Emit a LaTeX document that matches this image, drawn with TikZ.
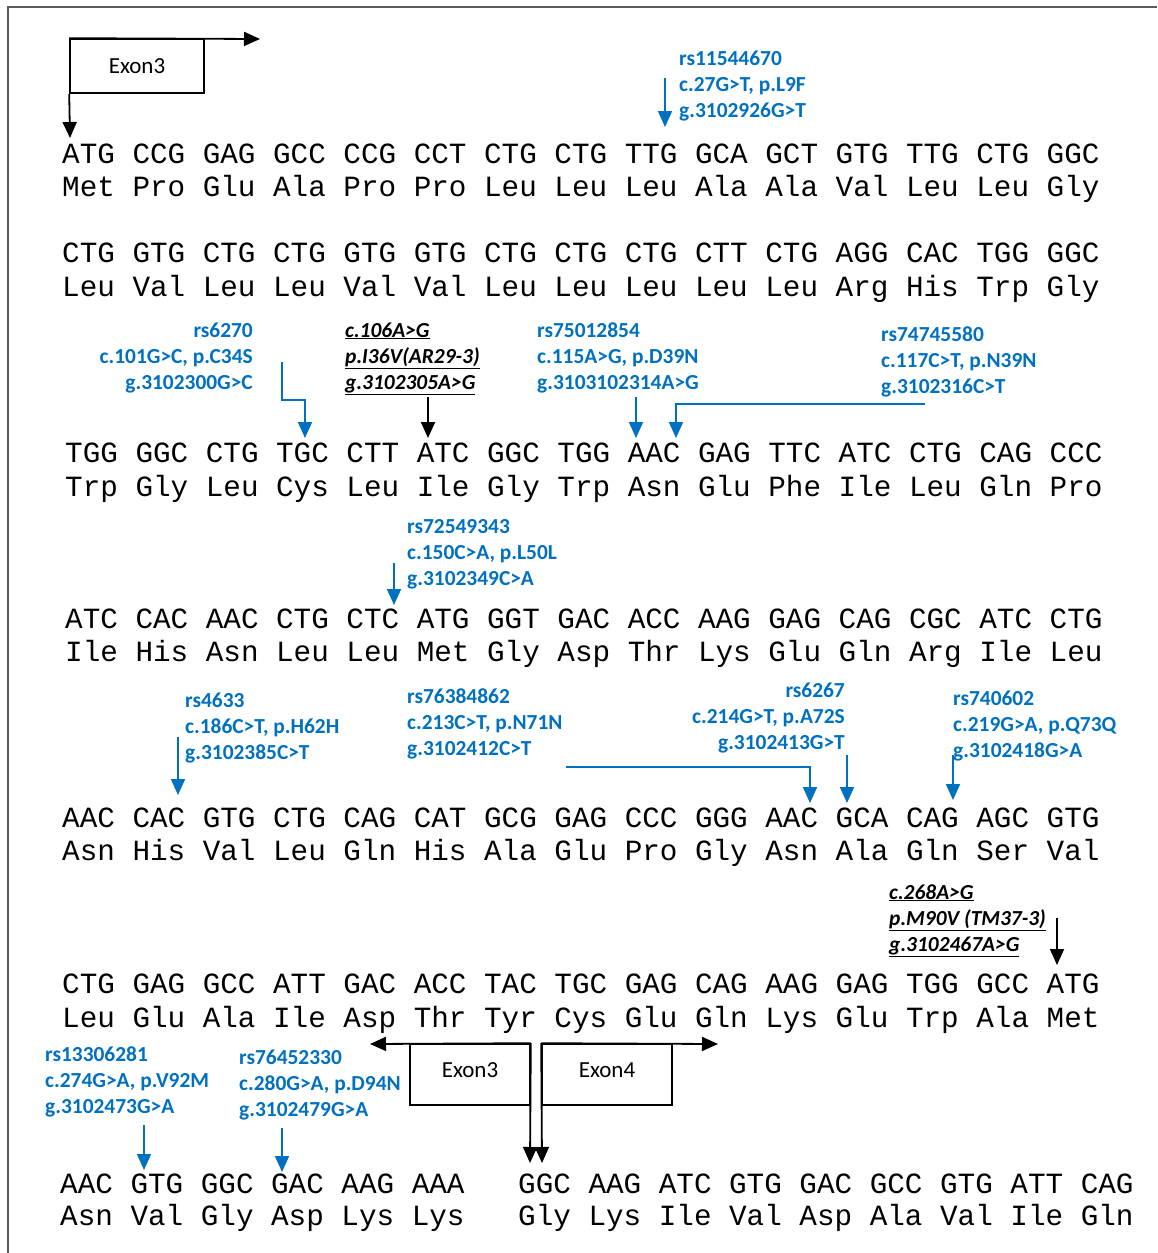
\documentclass[tikz,border=0pt]{standalone}
\usepackage{fontspec}
\usetikzlibrary{arrows.meta}
\newfontfamily\cali{Carlito}
\newfontfamily\cour{Liberation Mono}
\definecolor{snpblue}{RGB}{0,112,192}
\definecolor{framegray}{RGB}{90,90,90}
\newcommand\blkl[3]{\begin{tabular}[t]{@{}l@{}}#1\\#2\\#3\end{tabular}}
\newcommand\blkr[3]{\begin{tabular}[t]{@{}r@{}}#1\\#2\\#3\end{tabular}}
\newcommand\ul[1]{\underline{#1}}
\begin{document}
\begin{tikzpicture}[x=1pt,y=-1pt,
  seq/.style={anchor=base west,inner sep=0pt,font=\cour\fontsize{29.3}{32}\selectfont},
  snp/.style={inner sep=0pt,text=snpblue,font=\cali\bfseries\fontsize{21.4}{26}\selectfont},
  mut/.style={inner sep=0pt,text=black,font=\cali\bfseries\itshape\fontsize{21.4}{26}\selectfont},
  exonbox/.style={draw,line width=1.6pt,minimum width=134pt,minimum height=54pt,inner sep=0pt,font=\cali\fontsize{23}{26}\selectfont},
  tip/.style={-{Triangle[length=16pt,width=14pt]}},
  barr/.style={tip,line width=1.8pt,black},
  blarr/.style={tip,line width=1.8pt,snpblue}]
\useasboundingbox (0,0) rectangle (1157,1253);
% frame
\coordinate (fbl) at (8,1253);
\coordinate (ftl) at (8,7);
\coordinate (ftr) at (1157,7);
\draw[framegray,line width=2pt] (fbl) -- (ftl) -- (ftr);

% sequence rows
\node[seq] (c1) at (62,163) {ATG CCG GAG GCC CCG CCT CTG CTG TTG GCA GCT GTG TTG CTG GGC};
\node[seq] (a1) at (62,196) {Met Pro Glu Ala Pro Pro Leu Leu Leu Ala Ala Val Leu Leu Gly};
\node[seq] (c2) at (62,262) {CTG GTG CTG CTG GTG GTG CTG CTG CTG CTT CTG AGG CAC TGG GGC};
\node[seq] (a2) at (62,296) {Leu Val Leu Leu Val Val Leu Leu Leu Leu Leu Arg His Trp Gly};
\node[seq] (c3) at (65,462) {TGG GGC CTG TGC CTT ATC GGC TGG AAC GAG TTC ATC CTG CAG CCC};
\node[seq] (a3) at (65,496) {Trp Gly Leu Cys Leu Ile Gly Trp Asn Glu Phe Ile Leu Gln Pro};
\node[seq] (c4) at (65,628) {ATC CAC AAC CTG CTC ATG GGT GAC ACC AAG GAG CAG CGC ATC CTG};
\node[seq] (a4) at (65,661) {Ile His Asn Leu Leu Met Gly Asp Thr Lys Glu Gln Arg Ile Leu};
\node[seq] (c5) at (62,827) {AAC CAC GTG CTG CAG CAT GCG GAG CCC GGG AAC GCA CAG AGC GTG};
\node[seq] (a5) at (62,860) {Asn His Val Leu Gln His Ala Glu Pro Gly Asn Ala Gln Ser Val};
\node[seq] (c6) at (62,993) {CTG GAG GCC ATT GAC ACC TAC TGC GAG CAG AAG GAG TGG GCC ATG};
\node[seq] (a6) at (62,1027) {Leu Glu Ala Ile Asp Thr Tyr Cys Glu Gln Lys Glu Trp Ala Met};
\node[seq] (c7a) at (60,1193) {AAC GTG GGC GAC AAG AAA};
\node[seq] (a7a) at (60,1225) {Asn Val Gly Asp Lys Lys};
\node[seq] (c7b) at (518,1193) {GGC AAG ATC GTG GAC GCC GTG ATT CAG};
\node[seq] (a7b) at (518,1225) {Gly Lys Ile Val Asp Ala Val Ile Gln};

% top exon box
\node[exonbox] (ex3top) at (137,66) {Exon3};
\coordinate (ex3topR) at (260,39);
\coordinate (ex3topD) at (70,138);
\draw[barr] (ex3top.north west) -- (ex3topR);
\draw[barr] (ex3top.south west) -- (ex3topD);

% row 1 annotation
\node[snp,anchor=base west] (s1) at (679,65) {\blkl{rs11544670}{c.27G>T, p.L9F}{g.3102926G>T}};
\coordinate (s1a) at (665,78); \coordinate (s1b) at (665,127);
\draw[blarr] (s1a) -- (s1b);

% row 3 annotations
\node[snp,anchor=base east] (s2) at (253,337) {\blkr{rs6270}{c.101G>C, p.C34S}{g.3102300G>C}};
\coordinate (s2a) at (282,362); \coordinate (s2b) at (305,438);
\draw[blarr] (s2a) |- (294,400) -| (s2b);

\node[mut,anchor=base west] (m1) at (345,337) {\blkl{\ul{c.106A>G}}{\ul{p.I36V(AR29-3)}}{\ul{g.3102305A>G}}};
\coordinate (m1a) at (428,397); \coordinate (m1b) at (428,438);
\draw[barr] (m1a) -- (m1b);

\node[snp,anchor=base west] (s3) at (537,337) {\blkl{rs75012854}{c.115A>G, p.D39N}{g.3103102314A>G}};
\coordinate (s3a) at (636,397); \coordinate (s3b) at (636,438);
\draw[blarr] (s3a) -- (s3b);

\node[snp,anchor=base west] (s4) at (881,341) {\blkl{rs74745580}{c.117C>T, p.N39N}{g.3102316C>T}};
\coordinate (s4a) at (925,404); \coordinate (s4b) at (676,438);
\draw[blarr] (s4a) -| (s4b);

% row 4 annotation
\node[snp,anchor=base west] (s5) at (407,533) {\blkl{rs72549343}{c.150C>A, p.L50L}{g.3102349C>A}};
\coordinate (s5a) at (394,563); \coordinate (s5b) at (394,605);
\draw[blarr] (s5a) -- (s5b);

% row 5 annotations
\node[snp,anchor=base west] (s6) at (185,707) {\blkl{rs4633}{c.186C>T, p.H62H}{g.3102385C>T}};
\coordinate (s6a) at (178,737); \coordinate (s6b) at (178,795);
\draw[blarr] (s6a) -- (s6b);

\node[snp,anchor=base west] (s7) at (407,703) {\blkl{rs76384862}{c.213C>T, p.N71N}{g.3102412C>T}};
\coordinate (s7a) at (566,767); \coordinate (s7b) at (810,803);
\draw[blarr] (s7a) -| (s7b);

\node[snp,anchor=base east] (s8) at (845,697) {\blkr{rs6267}{c.214G>T, p.A72S}{g.3102413G>T}};
\coordinate (s8a) at (847,755); \coordinate (s8b) at (847,803);
\draw[blarr] (s8a) -- (s8b);

\node[snp,anchor=base west] (s9) at (953,705) {\blkl{rs740602}{c.219G>A, p.Q73Q}{g.3102418G>A}};
\coordinate (s9a) at (953,755); \coordinate (s9b) at (953,800);
\draw[blarr] (s9a) -- (s9b);

% row 6 annotation
\node[mut,anchor=base west] (m2) at (889,899) {\blkl{\ul{c.268A>G}}{\ul{p.M90V (TM37-3)}}{\ul{g.3102467A>G}}};
\coordinate (m2a) at (1057,918); \coordinate (m2b) at (1057,965);
\draw[barr] (m2a) -- (m2b);

% row 7 annotations
\node[snp,anchor=base west] (s10) at (45,1061) {\blkl{rs13306281}{c.274G>A, p.V92M}{g.3102473G>A}};
\coordinate (s10a) at (144,1125); \coordinate (s10b) at (144,1170);
\draw[blarr] (s10a) -- (s10b);

\node[snp,anchor=base west] (s11) at (239,1064) {\blkl{rs76452330}{c.280G>A, p.D94N}{g.3102479G>A}};
\coordinate (s11a) at (282,1128); \coordinate (s11b) at (282,1172);
\draw[blarr] (s11a) -- (s11b);

% bottom exon boxes
\node[exonbox,minimum width=120pt,minimum height=61pt,text depth=8pt] (ex3b) at (470,1074.5) {Exon3};
\node[exonbox,minimum width=130pt,minimum height=61pt,text depth=8pt] (ex4b) at (607,1074.5) {Exon4};
\coordinate (ex3L) at (370,1044); \coordinate (ex3D) at (530,1163);
\coordinate (ex4R) at (718,1044); \coordinate (ex4D) at (542,1163);
\draw[barr] (ex3b.north east) -- (ex3L);
\draw[barr] (ex3b.north east) -- (ex3D);
\draw[barr] (ex4b.north west) -- (ex4R);
\draw[barr] (ex4b.north west) -- (ex4D);
\end{tikzpicture}
\end{document}
